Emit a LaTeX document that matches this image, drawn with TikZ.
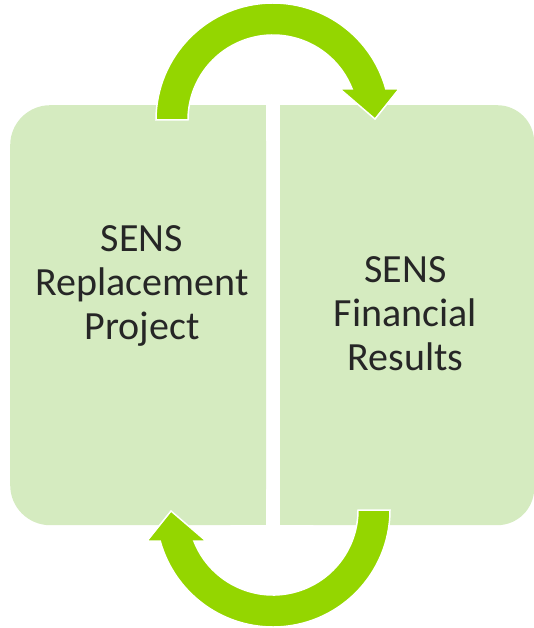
\documentclass[tikz,border=0pt]{standalone}
\usepackage{fontspec}
\setmainfont{Carlito}
\usetikzlibrary{calc}
\definecolor{boxfill}{RGB}{213,235,192}
\definecolor{arrowgreen}{RGB}{148,214,0}
\definecolor{txt}{RGB}{38,38,38}
\begin{document}
\begin{tikzpicture}[x=1pt,y=-1pt,
  boxshape/.style={fill=boxfill, draw=none, inner sep=0pt, anchor=north west},
  boxtext/.style={font=\fontsize{40}{44}\selectfont, text=txt, align=center, inner sep=0pt, anchor=base},
  circarrow/.style={fill=arrowgreen, draw=white, line width=1.5pt, line join=miter}]
\useasboundingbox (0,0) rectangle (534,628);
% boxes
\node[boxshape, rounded corners=40pt, minimum width=256pt, minimum height=420pt] (leftbox) at (10,105) {};
\fill[boxfill] (leftbox.north) rectangle (leftbox.south east);
\node[boxshape, rounded corners=37pt, minimum width=254pt, minimum height=420pt] (rightbox) at (280,105) {};
\fill[boxfill] (rightbox.north west) rectangle (rightbox.south);
% texts (anchor base = baseline of last line)
\node[boxtext] (lefttext) at (142,339) {SENS\\Replacement\\Project};
\node[boxtext] (righttext) at (405.5,370) {SENS\\Financial\\Results};
% circular arrows
\coordinate (topc) at (273,120);
\coordinate (botc) at (273,510);
\draw[circarrow, shift={(topc)}] (180:117) arc[start angle=180, end angle=344.6, radius=117]
  -- (126,-31) -- (102,-1) -- (67,-31) -- (338.6:85)
  arc[start angle=338.6, end angle=180, radius=85] -- cycle;
\draw[circarrow, shift={(botc)}, rotate=180] (180:117) arc[start angle=180, end angle=344.6, radius=117]
  -- (126,-31) -- (102,-1) -- (67,-31) -- (338.6:85)
  arc[start angle=338.6, end angle=180, radius=85] -- cycle;
\end{tikzpicture}
\end{document}
